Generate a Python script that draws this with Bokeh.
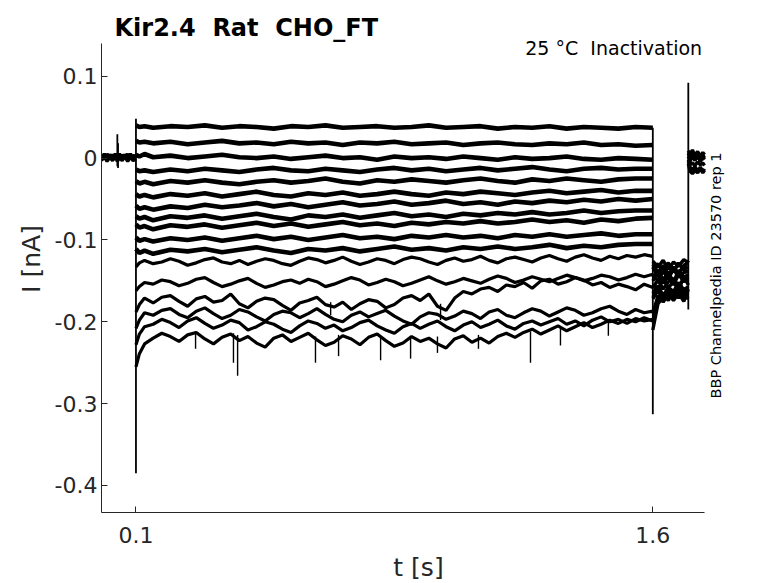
import math
from bokeh.plotting import figure
from bokeh.models import Label, FixedTicker
from bokeh.embed import file_html
from bokeh.resources import INLINE

# ---------------- data ----------------
# (second blank of each double gap is a no-break space so SVG keeps the gap)
TITLE = "Kir2.4 \u00a0Rat \u00a0CHO_FT"
SUBTITLE = "25 °C \u00a0Inactivation"
SIDE_NOTE = "BBP Channelpedia ID 23570 rep 1"
X_LABEL = "t [s]"
Y_LABEL = "I [nA]"
X_TICKS = [0.1, 1.6]
Y_TICKS = [-0.4, -0.3, -0.2, -0.1, 0, 0.1]
Y_TICK_LABELS = ["-0.4", "-0.3", "-0.2", "-0.1", "0", "0.1"]
X_LIMITS = (0.0, 1.75)
Y_LIMITS = (-0.433, 0.14)

# holding before the step
PRE_T = [0.0, 0.008, 0.016, 0.024, 0.032, 0.040, 0.046, 0.052, 0.060, 0.068, 0.076, 0.084, 0.092, 0.1]
PRE_I = [
    [0.004, -0.001, 0.005, 0.000, 0.004, -0.001, 0.003, -0.002, 0.004, 0.000, 0.005, -0.001, 0.003, 0.002],
    [-0.003, 0.002, -0.004, 0.001, -0.003, 0.002, -0.004, 0.001, -0.003, 0.002, -0.004, 0.001, -0.003, -0.001],
    [0.001, 0.005, 0.000, 0.004, 0.001, 0.005, 0.002, 0.005, 0.000, 0.004, 0.001, 0.005, 0.000, 0.003],
]

# test step (0.1 s .. 1.6 s): upper sweeps
STEP_T = [0.1, 0.11, 0.125, 0.15, 0.2, 0.25, 0.3, 0.35, 0.4, 0.45, 0.5, 0.55, 0.6, 0.65, 0.7, 0.75,
          0.8, 0.85, 0.9, 0.95, 1.0, 1.05, 1.1, 1.15, 1.2, 1.25, 1.3, 1.35, 1.4, 1.45, 1.5, 1.55, 1.6]
SWEEP_01 = [0.040, 0.038, 0.039, 0.037, 0.039, 0.038, 0.040, 0.037, 0.039, 0.038, 0.036, 0.039, 0.038, 0.040, 0.037, 0.038, 0.039, 0.037, 0.038, 0.040, 0.037, 0.038, 0.039, 0.036, 0.038, 0.037, 0.039, 0.036, 0.038, 0.037, 0.036, 0.038, 0.037]
SWEEP_02 = [0.021, 0.019, 0.020, 0.018, 0.020, 0.017, 0.019, 0.021, 0.018, 0.019, 0.017, 0.020, 0.018, 0.019, 0.016, 0.019, 0.018, 0.020, 0.017, 0.018, 0.019, 0.016, 0.018, 0.019, 0.017, 0.016, 0.018, 0.017, 0.019, 0.016, 0.017, 0.015, 0.016]
SWEEP_03 = [0.004, 0.002, 0.005, 0.001, 0.003, 0.000, 0.002, 0.004, 0.001, 0.000, 0.002, -0.001, 0.001, 0.003, 0.000, 0.001, -0.002, 0.002, 0.000, 0.001, -0.001, 0.002, 0.000, -0.002, 0.001, -0.001, 0.000, 0.002, -0.001, -0.002, 0.000, -0.001, -0.002]
SWEEP_04 = [-0.014, -0.016, -0.015, -0.017, -0.014, -0.016, -0.013, -0.015, -0.017, -0.014, -0.012, -0.015, -0.016, -0.013, -0.015, -0.017, -0.014, -0.012, -0.015, -0.013, -0.016, -0.014, -0.012, -0.015, -0.013, -0.011, -0.014, -0.016, -0.013, -0.012, -0.014, -0.013, -0.013]
SWEEP_05 = [-0.028, -0.031, -0.029, -0.032, -0.028, -0.030, -0.027, -0.030, -0.032, -0.029, -0.027, -0.030, -0.028, -0.025, -0.029, -0.031, -0.027, -0.029, -0.026, -0.028, -0.030, -0.027, -0.025, -0.028, -0.030, -0.026, -0.028, -0.025, -0.027, -0.029, -0.026, -0.025, -0.025]
SWEEP_06 = [-0.044, -0.047, -0.045, -0.048, -0.044, -0.046, -0.043, -0.047, -0.044, -0.041, -0.045, -0.047, -0.043, -0.045, -0.042, -0.046, -0.044, -0.041, -0.044, -0.046, -0.042, -0.044, -0.041, -0.043, -0.045, -0.042, -0.040, -0.043, -0.041, -0.039, -0.042, -0.040, -0.040]
SWEEP_07 = [-0.058, -0.062, -0.060, -0.063, -0.059, -0.061, -0.057, -0.060, -0.058, -0.055, -0.059, -0.056, -0.060, -0.057, -0.054, -0.058, -0.056, -0.053, -0.057, -0.055, -0.052, -0.056, -0.054, -0.057, -0.053, -0.055, -0.052, -0.054, -0.051, -0.053, -0.050, -0.052, -0.050]
SWEEP_08 = [-0.071, -0.074, -0.072, -0.076, -0.071, -0.073, -0.070, -0.074, -0.071, -0.068, -0.072, -0.075, -0.070, -0.072, -0.069, -0.073, -0.070, -0.067, -0.071, -0.069, -0.072, -0.068, -0.070, -0.067, -0.069, -0.066, -0.069, -0.067, -0.064, -0.067, -0.065, -0.064, -0.064]
SWEEP_09 = [-0.081, -0.085, -0.083, -0.087, -0.082, -0.084, -0.081, -0.085, -0.082, -0.079, -0.083, -0.080, -0.084, -0.081, -0.078, -0.082, -0.080, -0.083, -0.079, -0.081, -0.078, -0.080, -0.077, -0.080, -0.078, -0.075, -0.078, -0.076, -0.079, -0.075, -0.077, -0.074, -0.073]
SWEEP_10 = [-0.097, -0.101, -0.099, -0.102, -0.098, -0.100, -0.097, -0.101, -0.098, -0.095, -0.099, -0.096, -0.100, -0.097, -0.094, -0.098, -0.096, -0.099, -0.095, -0.097, -0.094, -0.097, -0.095, -0.098, -0.094, -0.096, -0.093, -0.096, -0.094, -0.092, -0.095, -0.093, -0.093]
SWEEP_11 = [-0.111, -0.116, -0.113, -0.117, -0.112, -0.114, -0.111, -0.115, -0.112, -0.109, -0.113, -0.116, -0.111, -0.113, -0.110, -0.114, -0.111, -0.108, -0.112, -0.110, -0.113, -0.109, -0.111, -0.108, -0.111, -0.109, -0.106, -0.110, -0.107, -0.109, -0.106, -0.105, -0.105]
UPPER_SWEEPS = [SWEEP_01, SWEEP_02, SWEEP_03, SWEEP_04, SWEEP_05, SWEEP_06, SWEEP_07, SWEEP_08,
                SWEEP_09, SWEEP_10, SWEEP_11]

# test step: lower (noisier) sweeps, read on a finer time grid
STEP_TF = [0.1, 0.11, 0.125, 0.15, 0.175, 0.2, 0.225, 0.25, 0.275, 0.3, 0.325, 0.35, 0.375, 0.4,
           0.425, 0.45, 0.475, 0.5, 0.525, 0.55, 0.575, 0.6, 0.625, 0.65, 0.675, 0.7, 0.725, 0.75,
           0.775, 0.8, 0.825, 0.85, 0.875, 0.9, 0.925, 0.95, 0.975, 1.0, 1.025, 1.05, 1.075, 1.1,
           1.125, 1.15, 1.175, 1.2, 1.225, 1.25, 1.275, 1.3, 1.325, 1.35, 1.375, 1.4, 1.425, 1.45,
           1.475, 1.5, 1.525, 1.55, 1.575, 1.6]
SWEEP_12 = [-0.133, -0.128, -0.125, -0.129, -0.127, -0.123, -0.126, -0.131, -0.128, -0.124,
            -0.122, -0.127, -0.129, -0.125, -0.130, -0.126, -0.123, -0.125, -0.129, -0.131,
            -0.126, -0.122, -0.124, -0.128, -0.125, -0.121, -0.126, -0.130, -0.127, -0.123,
            -0.125, -0.129, -0.124, -0.121, -0.123, -0.127, -0.130, -0.125, -0.122, -0.126,
            -0.124, -0.120, -0.125, -0.128, -0.123, -0.121, -0.124, -0.127, -0.122, -0.119,
            -0.123, -0.126, -0.121, -0.118, -0.122, -0.125, -0.120, -0.123, -0.119, -0.121,
            -0.118, -0.120]
SWEEP_13 = [-0.162, -0.157, -0.152, -0.154, -0.149, -0.151, -0.156, -0.153, -0.148, -0.146,
            -0.152, -0.157, -0.154, -0.150, -0.147, -0.153, -0.158, -0.155, -0.151, -0.149,
            -0.153, -0.148, -0.151, -0.157, -0.154, -0.150, -0.146, -0.149, -0.155, -0.152,
            -0.148, -0.151, -0.156, -0.153, -0.149, -0.145, -0.150, -0.154, -0.151, -0.147,
            -0.150, -0.153, -0.148, -0.144, -0.147, -0.152, -0.149, -0.145, -0.148, -0.151,
            -0.147, -0.143, -0.146, -0.150, -0.147, -0.143, -0.145, -0.149, -0.146, -0.142,
            -0.145, -0.142]
SWEEP_14 = [-0.188, -0.179, -0.171, -0.177, -0.170, -0.168, -0.175, -0.181, -0.172, -0.169,
            -0.176, -0.174, -0.166, -0.178, -0.183, -0.175, -0.171, -0.173, -0.180, -0.186,
            -0.177, -0.174, -0.170, -0.179, -0.182, -0.176, -0.185, -0.178, -0.173, -0.175,
            -0.183, -0.179, -0.171, -0.168, -0.174, -0.166, -0.181, -0.186, -0.171, -0.163,
            -0.166, -0.160, -0.158, -0.163, -0.155, -0.157, -0.152, -0.159, -0.150, -0.148,
            -0.154, -0.151, -0.146, -0.149, -0.155, -0.152, -0.158, -0.154, -0.157, -0.161,
            -0.154, -0.158]
SWEEP_15 = [-0.208, -0.198, -0.189, -0.192, -0.186, -0.184, -0.191, -0.195, -0.187, -0.183,
            -0.190, -0.196, -0.192, -0.185, -0.188, -0.194, -0.199, -0.191, -0.187, -0.189,
            -0.195, -0.190, -0.184, -0.191, -0.197, -0.200, -0.192, -0.188, -0.194, -0.190,
            -0.186, -0.193, -0.199, -0.203, -0.194, -0.189, -0.191, -0.197, -0.193, -0.187,
            -0.190, -0.196, -0.188, -0.185, -0.192, -0.195, -0.189, -0.184, -0.187, -0.193,
            -0.188, -0.183, -0.186, -0.192, -0.189, -0.184, -0.181, -0.187, -0.191, -0.185,
            -0.189, -0.187]
SWEEP_16 = [-0.228, -0.215, -0.206, -0.203, -0.197, -0.201, -0.207, -0.199, -0.195, -0.202,
            -0.208, -0.204, -0.198, -0.201, -0.210, -0.206, -0.200, -0.203, -0.209, -0.213,
            -0.205, -0.199, -0.202, -0.208, -0.204, -0.211, -0.207, -0.201, -0.198, -0.205,
            -0.210, -0.214, -0.206, -0.202, -0.208, -0.203, -0.199, -0.206, -0.211, -0.204,
            -0.200, -0.207, -0.203, -0.198, -0.205, -0.209, -0.202, -0.199, -0.204, -0.200,
            -0.196, -0.203, -0.199, -0.205, -0.198, -0.194, -0.200, -0.197, -0.202, -0.196,
            -0.199, -0.197]
SWEEP_17 = [-0.255, -0.239, -0.227, -0.220, -0.214, -0.218, -0.224, -0.216, -0.213, -0.221,
            -0.227, -0.219, -0.215, -0.223, -0.218, -0.226, -0.231, -0.220, -0.216, -0.224,
            -0.219, -0.214, -0.222, -0.229, -0.225, -0.217, -0.221, -0.228, -0.219, -0.215,
            -0.223, -0.230, -0.226, -0.218, -0.224, -0.220, -0.227, -0.232, -0.221, -0.217,
            -0.225, -0.220, -0.226, -0.218, -0.214, -0.219, -0.213, -0.209, -0.215, -0.210,
            -0.205, -0.211, -0.206, -0.201, -0.207, -0.203, -0.198, -0.202, -0.197, -0.200,
            -0.195, -0.199]
LOWER_SWEEPS = [SWEEP_12, SWEEP_13, SWEEP_14, SWEEP_15, SWEEP_16, SWEEP_17]

# brief downward events on the lower sweeps
EVENT_T = [0.273, 0.383, 0.395, 0.621, 0.688, 0.810, 0.897, 0.975, 1.094, 1.245, 1.332, 1.471, 0.665, 0.984]
EVENT_TOP = [-0.212, -0.214, -0.216, -0.218, -0.216, -0.218, -0.218, -0.218, -0.216, -0.212, -0.207, -0.198, -0.176, -0.178]
EVENT_BOT = [-0.233, -0.250, -0.266, -0.250, -0.242, -0.247, -0.245, -0.238, -0.233, -0.250, -0.229, -0.217, -0.192, -0.198]

# after the step (1.6 s .. 1.703 s)
TAIL_T = [1.6, 1.615, 1.63, 1.645, 1.66, 1.675, 1.69, 1.703]
TAIL_I = [
    [-0.126, -0.133, -0.125, -0.136, -0.127, -0.132, -0.124, -0.128],
    [-0.130, -0.139, -0.134, -0.128, -0.137, -0.130, -0.135, -0.125],
    [-0.136, -0.129, -0.141, -0.132, -0.139, -0.128, -0.137, -0.133],
    [-0.142, -0.150, -0.138, -0.147, -0.136, -0.145, -0.140, -0.138],
    [-0.150, -0.141, -0.153, -0.144, -0.155, -0.142, -0.151, -0.146],
    [-0.155, -0.163, -0.146, -0.159, -0.150, -0.162, -0.144, -0.155],
    [-0.158, -0.149, -0.160, -0.151, -0.147, -0.157, -0.148, -0.152],
    [-0.165, -0.156, -0.168, -0.158, -0.163, -0.152, -0.161, -0.157],
    [-0.170, -0.160, -0.176, -0.166, -0.174, -0.165, -0.175, -0.160],
    [-0.172, -0.162, -0.170, -0.160, -0.168, -0.159, -0.166, -0.163],
    [-0.190, -0.168, -0.175, -0.165, -0.172, -0.163, -0.170, -0.168],
    [-0.200, -0.175, -0.166, -0.174, -0.162, -0.171, -0.160, -0.165],
    [-0.210, -0.178, -0.170, -0.161, -0.169, -0.158, -0.167, -0.172],
    [-0.133, -0.145, -0.131, -0.143, -0.133, -0.141, -0.131, -0.128],
    [-0.146, -0.137, -0.149, -0.139, -0.152, -0.137, -0.146, -0.142],
]

# back at holding (1.703 s .. 1.75 s)
END_T = [1.703, 1.708, 1.715, 1.722, 1.73, 1.738, 1.745, 1.75]
END_I = [
    [0.009, 0.004, 0.010, 0.003, 0.008, 0.002, 0.007, 0.004],
    [0.006, -0.001, 0.006, -0.002, 0.005, -0.001, 0.004, 0.000],
    [0.002, -0.004, 0.003, -0.003, 0.002, -0.004, 0.001, -0.002],
    [-0.002, -0.008, -0.006, -0.009, -0.005, -0.008, -0.006, -0.009],
    [-0.004, -0.011, -0.015, -0.010, -0.016, -0.011, -0.017, -0.013],
    [-0.007, -0.016, -0.019, -0.015, -0.018, -0.013, -0.018, -0.015],
]

# capacitive transients and artefact (time, max, min)
TRANS_T = [0.1, 1.6, 1.703, 0.046, 0.048]
TRANS_TOP = [0.048, 0.037, 0.092, 0.029, 0.018]
TRANS_BOT = [-0.385, -0.313, -0.185, -0.010, -0.012]

# ---------------- figure ----------------
AX = "#262626"
FONT = "DejaVu Sans"
PX_PER_X = 344.57   # frame pixels per second
PX_PER_Y = 818.5    # frame pixels per nA

p = figure(frame_width=634, frame_height=507,
           x_range=(X_LIMITS[0], X_LIMITS[1] + 31 / PX_PER_X),
           y_range=(Y_LIMITS[0], Y_LIMITS[1] + 38 / PX_PER_Y),
           output_backend="svg", toolbar_location=None, title=None,
           min_border_left=101, min_border_right=35, min_border_top=5, min_border_bottom=66)
p.outline_line_color = None
p.grid.visible = False

for ax in (p.xaxis[0], p.yaxis[0]):
    ax.axis_line_color = AX
    ax.major_tick_line_color = AX
    ax.minor_tick_line_color = None
    ax.major_tick_in = 6
    ax.major_tick_out = 0
    ax.major_label_text_font = FONT
    ax.major_label_text_font_size = "22px"
    ax.major_label_text_color = AX
    ax.axis_label_text_font = FONT
    ax.axis_label_text_font_size = "25px"
    ax.axis_label_text_font_style = "normal"
    ax.axis_label_text_color = AX

p.xaxis.bounds = X_LIMITS
p.yaxis.bounds = Y_LIMITS
p.xaxis.ticker = FixedTicker(ticks=X_TICKS)
p.yaxis.ticker = FixedTicker(ticks=Y_TICKS)
p.yaxis.major_label_overrides = {v: s for v, s in zip(Y_TICKS, Y_TICK_LABELS)}
p.xaxis.axis_label = X_LABEL
p.yaxis.axis_label = Y_LABEL
p.xaxis.major_label_standoff = 14
p.xaxis.axis_label_standoff = 7
p.yaxis.major_label_standoff = 4
p.yaxis.axis_label_standoff = 6

for vals in PRE_I:
    p.line(PRE_T, vals, line_color="black", line_width=3.4)
for vals in UPPER_SWEEPS:
    assert len(vals) == len(STEP_T)
    p.line(STEP_T, vals, line_color="black", line_width=4.6)
for vals in LOWER_SWEEPS:
    assert len(vals) == len(STEP_TF)
    p.line(STEP_TF, vals, line_color="black", line_width=3.2)
for vals in TAIL_I:
    p.line(TAIL_T, vals, line_color="black", line_width=3.4)
for vals in END_I:
    p.line(END_T, vals, line_color="black", line_width=3.4)

p.segment(x0=EVENT_T, y0=EVENT_TOP, x1=EVENT_T, y1=EVENT_BOT, line_color="black", line_width=1.4)
p.segment(x0=TRANS_T, y0=TRANS_TOP, x1=TRANS_T, y1=TRANS_BOT, line_color="black", line_width=1.8)

p.add_layout(Label(x=0.0377, y=0.1595, text=TITLE, text_font=FONT, text_font_size="24px",
                   text_font_style="bold", text_color="black", text_align="left",
                   text_baseline="alphabetic"))
p.add_layout(Label(x=1.743, y=0.1348, text=SUBTITLE, text_font=FONT, text_font_size="19px",
                   text_color="black", text_align="right", text_baseline="alphabetic"))
p.add_layout(Label(x=1.7847, y=-0.1434, text=SIDE_NOTE, text_font=FONT, text_font_size="14.5px",
                   text_color="black", text_align="center", text_baseline="middle",
                   angle=math.pi / 2))

open("out.html", "w").write(file_html(p, INLINE))
